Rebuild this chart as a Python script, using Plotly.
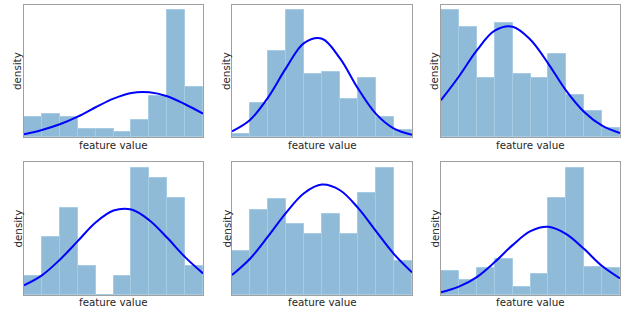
import plotly.graph_objects as go

bin_centers = [0.5, 1.5, 2.5, 3.5, 4.5, 5.5, 6.5, 7.5, 8.5, 9.5]
curve_x = [0, 1, 2, 3, 4, 5, 6, 7, 8, 9, 10]

hist_1 = [60, 68, 60, 25, 25, 14, 50, 123, 380, 150]
curve_1 = [8, 21, 38, 61, 89, 115, 132, 134, 122, 98, 70]
hist_2 = [8, 102, 258, 380, 190, 195, 113, 177, 61, 20]
curve_2 = [17, 51, 118, 206, 281, 294, 235, 145, 69, 25, 7]
hist_3 = [380, 328, 178, 340, 188, 178, 248, 127, 77, 28]
curve_3 = [110, 181, 259, 318, 330, 291, 219, 138, 75, 34, 12]
hist_4 = [57, 175, 262, 87, 0, 57, 382, 352, 293, 87]
curve_4 = [29, 59, 106, 162, 218, 254, 257, 225, 172, 114, 65]
hist_5 = [132, 257, 288, 215, 183, 245, 183, 308, 382, 102]
curve_5 = [60, 109, 176, 247, 306, 332, 315, 262, 192, 123, 68]
hist_6 = [72, 45, 80, 107, 25, 64, 292, 382, 84, 80]
curve_6 = [8, 25, 54, 99, 150, 192, 205, 183, 138, 87, 50]

hists = [hist_1, hist_2, hist_3, hist_4, hist_5, hist_6]
curves = [curve_1, curve_2, curve_3, curve_4, curve_5, curve_6]
y_tops = [395, 395, 395, 400, 400, 400]

W, H = 623, 309
x_px = [(24, 203), (232, 412), (441, 620)]
y_px = [(5, 137), (162, 295)]
density_x = [17, 226, 434]
label_y = [145, 302]

fig = go.Figure()
layout = {}
annotations = []
for i in range(6):
    r, c = divmod(i, 3)
    n = "" if i == 0 else str(i + 1)
    xa, ya = "x" + n, "y" + n
    fig.add_trace(go.Bar(x=bin_centers, y=hists[i], width=1.0, xaxis=xa, yaxis=ya,
                         marker=dict(color="#8fbbd9", line=dict(color="#a8cbe4", width=1)),
                         showlegend=False, hoverinfo="skip"))
    fig.add_trace(go.Scatter(x=curve_x, y=curves[i], mode="lines", xaxis=xa, yaxis=ya,
                             line=dict(color="#0000ff", width=2, shape="spline", smoothing=1.0),
                             showlegend=False, hoverinfo="skip"))
    x0, x1 = x_px[c]
    y0, y1 = y_px[r]
    layout["xaxis" + n] = dict(domain=[x0 / W, x1 / W], range=[0, 10], anchor=ya,
                               showticklabels=False, ticks="", showgrid=False, zeroline=False,
                               showline=True, mirror=True, linecolor="#a0a0a0", linewidth=1)
    layout["yaxis" + n] = dict(domain=[1 - y1 / H, 1 - y0 / H], range=[0, y_tops[i]], anchor=xa,
                               showticklabels=False, ticks="", showgrid=False, zeroline=False,
                               showline=True, mirror=True, linecolor="#a0a0a0", linewidth=1)
    annotations.append(dict(text="feature value", x=(x0 + x1) / 2 / W, y=1 - label_y[r] / H,
                            xref="paper", yref="paper", showarrow=False, xanchor="center",
                            yanchor="middle", font=dict(size=10.3, color="#262626", family="DejaVu Sans")))
    annotations.append(dict(text="density", x=density_x[c] / W, y=1 - (y0 + y1) / 2 / H,
                            xref="paper", yref="paper", showarrow=False, xanchor="center",
                            yanchor="middle", textangle=-90,
                            font=dict(size=10.3, color="#262626", family="DejaVu Sans")))

fig.update_layout(width=W, height=H, margin=dict(l=0, r=0, t=0, b=0),
                  paper_bgcolor="white", plot_bgcolor="white", bargap=0,
                  annotations=annotations, **layout)
fig.write_html("out.html", config={"displayModeBar": False},
               post_script="document.body.style.margin='0px';document.body.style.overflow='hidden';")
